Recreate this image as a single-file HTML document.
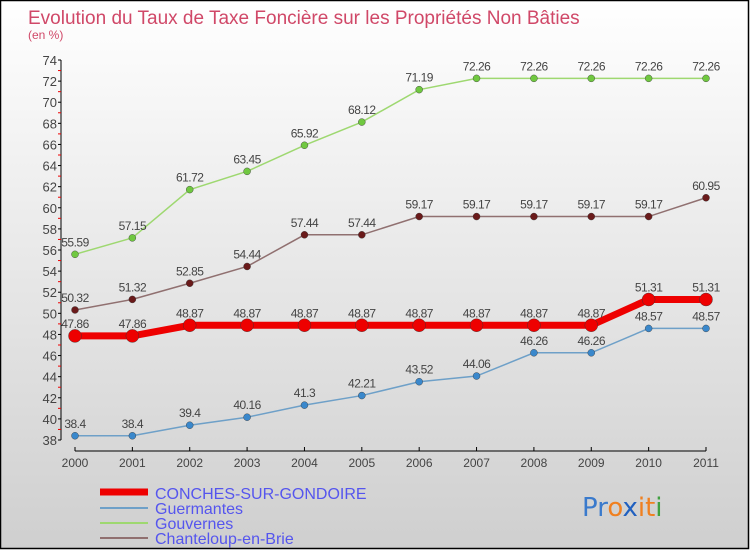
<!DOCTYPE html>
<html><head><meta charset="utf-8"><style>
body{margin:0;width:750px;height:550px;overflow:hidden;font-family:"Liberation Sans",sans-serif}
</style></head><body>
<svg id="c" width="750" height="550" xmlns="http://www.w3.org/2000/svg">
<defs><linearGradient id="bg" x1="0" y1="0" x2="0" y2="1"><stop offset="0" stop-color="#ffffff"/><stop offset="1" stop-color="#cfcfcf"/></linearGradient></defs>
<rect x="0.5" y="0.5" width="748" height="548" fill="url(#bg)" stroke="#000" stroke-width="1.5"/>
<text x="28" y="24" font-size="19" fill="#d04868">Evolution du Taux de Taxe Foncière sur les Propriétés Non Bâties</text>
<text x="28" y="39" font-size="12" fill="#d04868">(en %)</text>
<g id="axes"></g><g id="series"></g>
<g>
<line x1="100" y1="492" x2="148" y2="492" stroke="#e00" stroke-width="7"/>
<text x="155" y="499" font-size="16" fill="#5555ee">CONCHES-SUR-GONDOIRE</text>
<line x1="100" y1="508" x2="148" y2="508" stroke="#6ea0c8" stroke-width="2"/>
<text x="155" y="514" font-size="16" fill="#5555ee">Guermantes</text>
<line x1="100" y1="523" x2="148" y2="523" stroke="#9ed870" stroke-width="2"/>
<text x="155" y="529" font-size="16" fill="#5555ee">Gouvernes</text>
<line x1="100" y1="538" x2="148" y2="538" stroke="#907070" stroke-width="2"/>
<text x="155" y="544" font-size="16" fill="#5555ee">Chanteloup-en-Brie</text>
</g>
<text x="582" y="516" font-size="26" font-family="DejaVu Sans"><tspan fill="#3a7acc">Pr</tspan><tspan fill="#f08020">o</tspan><tspan fill="#2060c0">x</tspan><tspan fill="#f08020">it</tspan><tspan fill="#40a040">i</tspan></text>
</svg>
<script>
const years=[2000,2001,2002,2003,2004,2005,2006,2007,2008,2009,2010,2011];
const conches=[47.86,47.86,48.87,48.87,48.87,48.87,48.87,48.87,48.87,48.87,51.31,51.31];
const guermantes=[38.4,38.4,39.4,40.16,41.3,42.21,43.52,44.06,46.26,46.26,48.57,48.57];
const gouvernes=[55.59,57.15,61.72,63.45,65.92,68.12,71.19,72.26,72.26,72.26,72.26,72.26];
const chanteloup=[50.32,51.32,52.85,54.44,57.44,57.44,59.17,59.17,59.17,59.17,59.17,60.95];
const yTicks=[38,40,42,44,46,48,50,52,54,56,58,60,62,64,66,68,70,72,74];
const NS="http://www.w3.org/2000/svg";
const X=i=>75+i*(706-75)/11, Y=v=>440-(v-38)*(380/36);
function mk(t,a,p){const e=document.createElementNS(NS,t);for(const k in a)e.setAttribute(k,a[k]);p.appendChild(e);return e;}
const ax=document.getElementById('axes');
mk('line',{x1:61,y1:60,x2:61,y2:440,stroke:'#000'},ax);
mk('line',{x1:75,y1:451,x2:706,y2:451,stroke:'#000'},ax);
yTicks.forEach(v=>{
 mk('line',{x1:58,y1:Y(v),x2:61,y2:Y(v),stroke:'#000'},ax);
 if(v<74)mk('line',{x1:58,y1:Y(v+1),x2:61,y2:Y(v+1),stroke:'#e00'},ax);
 const t=mk('text',{x:57,y:Y(v)+5,'font-size':13,fill:'#444','text-anchor':'end'},ax);
 
 
 t.textContent=v;
});
years.forEach((y,i)=>{
 mk('line',{x1:X(i),y1:447,x2:X(i),y2:451,stroke:'#000'},ax);
 const t=mk('text',{x:X(i),y:467,'font-size':12,fill:'#444','text-anchor':'middle'},ax);
 
 
 t.textContent=y;
});
const sg=document.getElementById('series');
function draw(name,vals,color,w,r,dot){
 const g=mk('g',{},sg);
 
 
 mk('polyline',{points:vals.map((v,i)=>X(i)+','+Y(v)).join(' '),fill:'none',stroke:color,'stroke-width':w},g);
 vals.forEach((v,i)=>{
  const c=mk('circle',{cx:X(i),cy:Y(v),r:r,fill:dot,stroke:'#333','stroke-width':0.4},g);
  
  
  const t=mk('text',{x:X(i),y:Y(v)-8,'font-size':12,fill:'#444','text-anchor':'middle','letter-spacing':'-0.5'},g);
  
  
  t.textContent=v;
 });
}
draw('guermantes',guermantes,'#6ea0c8',1.5,3.5,'#3a88cc');
draw('gouvernes',gouvernes,'#9ed870',1.5,3.5,'#70c840');
draw('chanteloup',chanteloup,'#907070',1.5,3.5,'#6a1a1a');
draw('conches',conches,'#ee0000',7,6.5,'#ee0000');
</script>
</body></html>
